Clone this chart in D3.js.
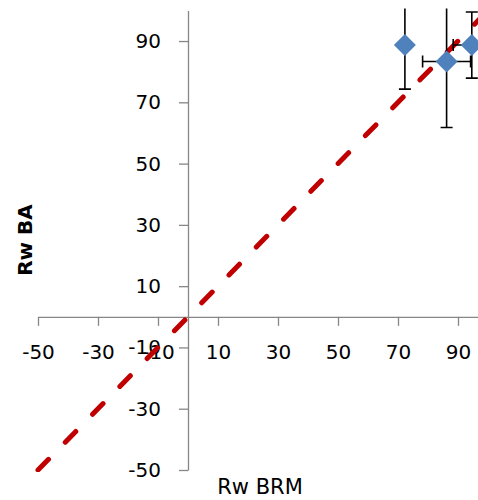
<!DOCTYPE html>
<html>
<head>
<meta charset="utf-8">
<script src="https://cdn.jsdelivr.net/npm/d3@7"></script>
<style>
  html, body { margin: 0; padding: 0; background: #fff; }
  svg { display: block; }
</style>
</head>
<body>
<svg id="chart" width="478" height="500"></svg>
<script>
// ---- data ----
const xValues = [72.3, 86.2, 94.6];
const yValues = [88.7, 83.3, 88.7];
const xErrors = [0, 8, 6.2];
const yErrors = [14.4, 21.5, 10.8];
const xTicks = [-50, -30, -10, 10, 30, 50, 70, 90];
const yTicks = [-50, -30, -10, 10, 30, 50, 70, 90];
const lineStart = -50;
const lineEnd = 100;
const xTitle = "Rw BRM";
const yTitle = "Rw BA";

const svg = d3.select("#chart");
const x = d3.scaleLinear().domain([-50, 100]).range([38, 488]);
const y = d3.scaleLinear().domain([-50, 100]).range([470, 10.4]);

const font = "DejaVu Sans, Verdana, sans-serif";
const fmt = d => String(d);

svg.append("defs").append("clipPath").attr("id", "plot")
  .append("rect").attr("x", x(-50) - 3).attr("y", y(100) - 2)
  .attr("width", x(100) - x(-50) + 6).attr("height", y(-50) - y(100) + 4);

// axes
const xAxis = svg.append("g")
  .attr("transform", `translate(0,${y(0)})`)
  .call(d3.axisBottom(x).tickValues(xTicks).tickSize(9).tickSizeOuter(0).tickFormat(fmt));
xAxis.selectAll("text").attr("y", 35).attr("dy", "0.36em");

const yAxis = svg.append("g")
  .attr("transform", `translate(${x(0)},0)`)
  .call(d3.axisLeft(y).tickValues(yTicks).tickSize(9).tickPadding(18).tickSizeOuter(0).tickFormat(fmt));

[xAxis, yAxis].forEach(g => {
  g.select(".domain").attr("stroke", "#868686").attr("stroke-width", 1.3);
  g.selectAll(".tick line").attr("stroke", "#868686").attr("stroke-width", 1.3);
  g.selectAll("text").attr("fill", "#000").style("font-family", font).style("font-size", "20px");
});

const plot = svg.append("g").attr("clip-path", "url(#plot)");

// dashed identity line
plot.append("line")
  .attr("x1", x(lineStart)).attr("y1", y(lineStart))
  .attr("x2", x(lineEnd)).attr("y2", y(lineEnd))
  .attr("stroke", "#C00000").attr("stroke-width", 5)
  .attr("stroke-linecap", "round").attr("stroke-dasharray", "15 24");

// error bars
const pts = xValues.map((v, i) => ({x: v, y: yValues[i], ex: xErrors[i], ey: yErrors[i]}));
const cap = 6;
const eb = plot.append("g").attr("stroke", "#000").attr("stroke-width", 1.6).attr("fill", "none");
pts.forEach(p => {
  if (p.ey > 0) {
    eb.append("line").attr("x1", x(p.x)).attr("x2", x(p.x)).attr("y1", y(p.y - p.ey)).attr("y2", y(p.y + p.ey));
    [p.y - p.ey, p.y + p.ey].forEach(v => eb.append("line")
      .attr("x1", x(p.x) - cap).attr("x2", x(p.x) + cap).attr("y1", y(v)).attr("y2", y(v)));
  }
  if (p.ex > 0) {
    eb.append("line").attr("y1", y(p.y)).attr("y2", y(p.y)).attr("x1", x(p.x - p.ex)).attr("x2", x(p.x + p.ex));
    [p.x - p.ex, p.x + p.ex].forEach(v => eb.append("line")
      .attr("y1", y(p.y) - cap).attr("y2", y(p.y) + cap).attr("x1", x(v)).attr("x2", x(v)));
  }
});

// diamonds
const r = 11;
svg.append("g").selectAll("path").data(pts).join("path")
  .attr("d", p => {
    const cx = x(p.x), cy = y(p.y);
    return `M${cx},${cy - r}L${cx + r},${cy}L${cx},${cy + r}L${cx - r},${cy}Z`;
  })
  .attr("fill", "#4F81BD");

// titles
svg.append("text").attr("x", 260).attr("y", 486).attr("dy", "0.36em")
  .attr("text-anchor", "middle").style("font-family", font).style("font-size", "21px")
  .attr("fill", "#000").text(xTitle);
svg.append("text").attr("transform", "translate(25,240) rotate(-90)").attr("dy", "0.36em")
  .attr("text-anchor", "middle").style("font-family", font).style("font-size", "20px")
  .style("font-weight", "bold").attr("fill", "#000").text(yTitle);
</script>
</body>
</html>
